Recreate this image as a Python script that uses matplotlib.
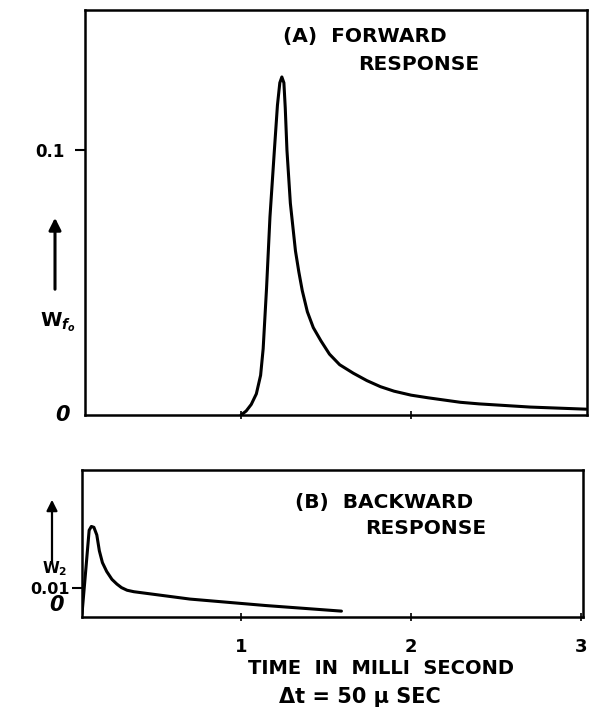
import matplotlib
matplotlib.use('Agg')
import matplotlib.pyplot as plt

# forward response W_f (time in ms)
fwd_t = [1.0, 1.03, 1.06, 1.09, 1.115, 1.13, 1.15, 1.17, 1.196, 1.214, 1.228, 1.24, 1.252,
         1.26, 1.27, 1.29, 1.32, 1.34, 1.36, 1.39, 1.425, 1.47, 1.52, 1.58, 1.66, 1.74,
         1.82, 1.9, 2.0, 2.1, 2.29, 2.4, 2.7, 3.03]
fwd_w = [0.0, 0.0015, 0.004, 0.008, 0.015, 0.025, 0.048, 0.0748, 0.100, 0.117, 0.1255,
         0.1277, 0.1255, 0.116, 0.100, 0.080, 0.062, 0.054, 0.047, 0.039, 0.033, 0.028,
         0.023, 0.019, 0.0158, 0.013, 0.0107, 0.009, 0.0075, 0.0065, 0.0048, 0.0042,
         0.003, 0.0022]

# backward response W_2
bwd_t = [0.065, 0.085, 0.107, 0.12, 0.135, 0.152, 0.167, 0.185, 0.21, 0.241, 0.27, 0.297,
         0.33, 0.37, 0.699, 1.145, 1.59]
bwd_w = [0.0011, 0.0145, 0.0295, 0.0308, 0.0305, 0.0279, 0.0225, 0.0185, 0.0155, 0.0128,
         0.0112, 0.0100, 0.0091, 0.0086, 0.0061, 0.0039, 0.0020]

x_ticks = [1, 2, 3]
x_labels = ['1', '2', '3']

plt.rcParams['font.family'] = ['DejaVu Sans']
plt.rcParams['font.weight'] = 'bold'

fig = plt.figure(figsize=(5.95, 7.14), dpi=100)

# (A) forward
ax1 = fig.add_axes([85/595, 299/714, 502/595, 405/714])
ax1.plot(fwd_t, fwd_w, color='black', lw=2.2, solid_capstyle='round', solid_joinstyle='round')
ax1.set_xlim(0.082, 3.035)
ax1.set_ylim(0, 0.153)
ax1.set_yticks([0.1])
ax1.set_yticklabels(['0.1'], fontsize=12, fontweight='bold')
ax1.set_xticks([1, 2])
ax1.set_xticklabels([])
ax1.tick_params(axis='y', direction='out', length=7, width=1.5, pad=8)
ax1.tick_params(axis='x', direction='inout', length=6, width=1.2)
for s in ax1.spines.values():
    s.set_linewidth(1.8)
ax1.text(-0.045, 0.0, '0', transform=ax1.transAxes, fontsize=15, style='italic',
         fontweight='bold', ha='center', va='center')
ax1.text(0.395, 0.935, '(A)  FORWARD', transform=ax1.transAxes, fontsize=14.5,
         fontweight='bold', ha='left', va='center')
ax1.text(0.545, 0.865, 'RESPONSE', transform=ax1.transAxes, fontsize=14.5,
         fontweight='bold', ha='left', va='center')

# (B) backward
ax2 = fig.add_axes([82/595, 97/714, 501/595, 147/714])
ax2.plot(bwd_t, bwd_w, color='black', lw=2.2, solid_capstyle='round', solid_joinstyle='round')
ax2.set_xlim(0.065, 3.01)
ax2.set_ylim(0, 0.05)
ax2.set_yticks([0.01])
ax2.set_yticklabels(['0.01'], fontsize=11.5, fontweight='bold')
ax2.set_xticks(x_ticks)
ax2.set_xticklabels(x_labels, fontsize=13, fontweight='bold')
ax2.tick_params(axis='y', direction='out', length=7, width=1.5, pad=2)
ax2.tick_params(axis='x', direction='inout', length=6, width=1.2, pad=12)
for s in ax2.spines.values():
    s.set_linewidth(1.8)
ax2.text(-0.05, 0.08, '0', transform=ax2.transAxes, fontsize=15, style='italic',
         fontweight='bold', ha='center', va='center')
ax2.text(-0.055, 0.33, 'W$_2$', transform=ax2.transAxes, fontsize=11,
         fontweight='bold', ha='center', va='center')
ax2.text(0.425, 0.78, '(B)  BACKWARD', transform=ax2.transAxes, fontsize=14.5,
         fontweight='bold', ha='left', va='center')
ax2.text(0.565, 0.60, 'RESPONSE', transform=ax2.transAxes, fontsize=14.5,
         fontweight='bold', ha='left', va='center')

# hand-drawn arrows for the vertical quantities
fig.add_artist(matplotlib.patches.FancyArrowPatch((55/595, 1 - 292/714), (55/595, 1 - 215/714),
               transform=fig.transFigure, arrowstyle='-|>', mutation_scale=18,
               color='black', lw=2.2))
fig.text(58/595, 1 - 322/714, 'W$_{f_o}$', fontsize=14, fontweight='bold',
         ha='center', va='center')
fig.add_artist(matplotlib.patches.FancyArrowPatch((52/595, 1 - 566/714), (52/595, 1 - 497/714),
               transform=fig.transFigure, arrowstyle='-|>', mutation_scale=16,
               color='black', lw=1.6))

fig.text(381/595, 1 - 668/714, 'TIME  IN  MILLI  SECOND', fontsize=14,
         fontweight='bold', ha='center', va='center')
fig.text(360/595, 1 - 697/714, '\u0394t = 50 \u03bc SEC', fontsize=15,
         fontweight='bold', ha='center', va='center')

fig.savefig('out.png', dpi=100)
